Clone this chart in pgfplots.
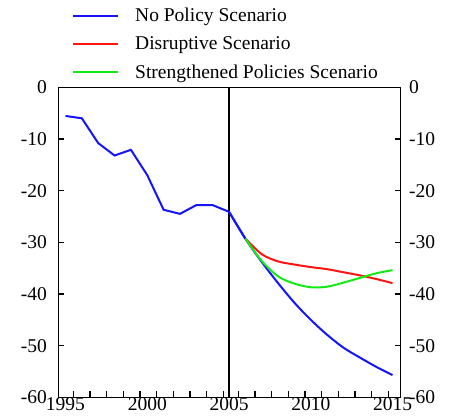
\documentclass[border=0pt]{standalone}
\usepackage{fontspec}
\setmainfont{Liberation Serif}
\usepackage{pgfplots}
\pgfplotsset{compat=1.18}
\definecolor{cblue}{RGB}{20,20,255}
\definecolor{cred}{RGB}{255,20,20}
\definecolor{cgreen}{RGB}{20,235,20}
\newcommand{\tfont}{\rmfamily\fontsize{19.5}{22}\selectfont}
\begin{document}
\rmfamily
\begin{tikzpicture}
\begin{axis}[
  name=ax, scale only axis, width=342.4pt, height=310pt,
  xmin=1994.56, xmax=2015.5, ymin=-60, ymax=0,
  axis line style={line width=1.3pt},
  tick align=inside, tick style={line width=1.2pt, black},
  major tick length=6pt,
  xtick={1995,2000,2005,2010,2015},
  xticklabels={1995,2000,2005,2010,2015},
  major x tick style={draw=none},
  xtick pos=left,
  ytick={-60,-50,-40,-30,-20,-10,0},
  yticklabels={-60,-50,-40,-30,-20,-10,0},
  ytick pos=left,
  xticklabel style={font=\tfont, yshift=3pt},
  yticklabel style={font=\tfont, xshift=-8pt},
  legend cell align=left,
  legend style={draw=none, fill=none, at={(0.04,1.262)}, anchor=north west,
    font=\tfont, row sep=9.5pt, column sep=14pt, inner sep=0pt},
  legend image code/.code={\draw[#1] (0pt,0pt) -- (45pt,0pt);},
]
\coordinate (bl) at (rel axis cs:0,0);
\coordinate (tr) at (rel axis cs:1,1);
\addplot[black, line width=1.2pt, forget plot] coordinates {(2005,0) (2005,-60)};
\addplot[cblue, line width=2pt] coordinates {
(1995,-5.55) (1996,-6.0) (1997,-10.8) (1998,-13.2) (1999,-12.1) (2000,-17.0)
(2001,-23.7) (2002,-24.5) (2003,-22.8) (2004,-22.8) (2005,-24.1) (2006,-29.3)};
\addlegendentry{No Policy Scenario}
\addplot[cblue, line width=2pt, smooth, forget plot] coordinates {
(2005,-24.1) (2006,-29.3) (2007,-33.8) (2008,-37.9) (2009,-41.7) (2010,-45.0)
(2011,-47.9) (2012,-50.4) (2013,-52.3) (2014,-54.1) (2015,-55.7)};
\addplot[cred, line width=2pt, smooth] coordinates {
(2006,-29.3) (2007,-32.3) (2008,-33.7) (2009,-34.3) (2010,-34.8) (2011,-35.2)
(2012,-35.8) (2013,-36.4) (2014,-37.1) (2015,-37.9)};
\addlegendentry{Disruptive Scenario}
\addplot[cgreen, line width=2pt, smooth] coordinates {
(2006,-29.3) (2007,-33.6) (2008,-36.6) (2009,-38.0) (2010,-38.7) (2011,-38.6)
(2012,-37.8) (2013,-36.9) (2014,-36.0) (2015,-35.4)};
\addlegendentry{Strengthened Policies Scenario}
\end{axis}
\begin{axis}[
  scale only axis, width=342.4pt, height=310pt,
  xmin=1994.56, xmax=2015.5, ymin=-60, ymax=0,
  axis x line*=bottom, axis y line*=right,
  axis line style={line width=1.3pt, -},
  tick align=inside, tick style={line width=1.2pt, black},
  major tick length=6pt,
  xtick={1995.48,1996.50,1997.52,1998.54,1999.56,2000.58,2001.59,2002.61,2003.64,2004.65,2005.57,2006.59,2007.61,2008.63,2009.65,2010.67,2011.69,2012.71,2013.73,2014.74},
  xticklabels={},
  ytick={-60,-50,-40,-30,-20,-10,0},
  yticklabels={-60,-50,-40,-30,-20,-10,0},
  yticklabel style={font=\tfont, xshift=5pt},
]
\end{axis}
\pgfresetboundingbox
\path[use as bounding box] ([shift={(-58.3pt,-20.7pt)}]bl) rectangle ([shift={(50.3pt,87.3pt)}]tr);
\end{tikzpicture}
\end{document}
